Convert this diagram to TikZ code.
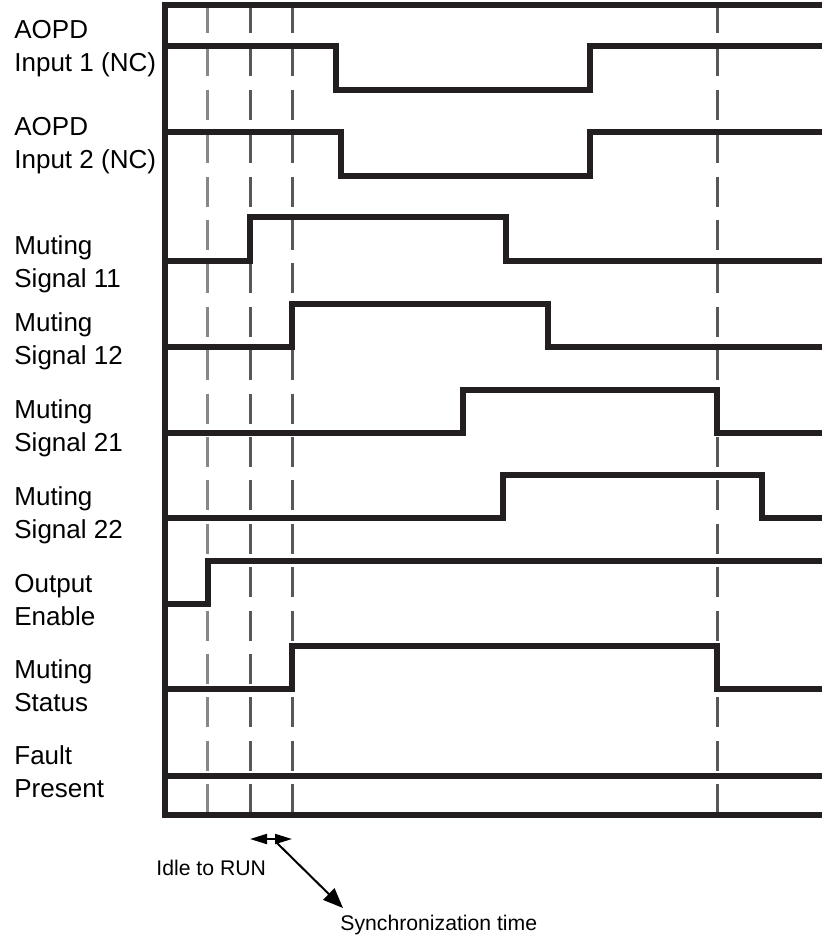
\documentclass[tikz,border=0pt]{standalone}
\usepackage{fontspec}
\setmainfont{Liberation Sans}
\usepackage{tikz}
\usetikzlibrary{arrows.meta}
\definecolor{sigblack}{RGB}{35,31,32}
\definecolor{dashlight}{RGB}{135,135,135}
\definecolor{dashdark}{RGB}{88,88,88}

\begin{document}
\begin{tikzpicture}[
  x=0.5pt, y=-0.5pt,
  sig/.style={draw=sigblack, line width=3pt},
  frame/.style={draw=sigblack, line width=3.3pt},
  guide/.style={line width=1.5pt, dash pattern=on 15pt off 6.7pt},
  signame/.style={font=\fontsize{13}{16.5}\selectfont, align=left,
               anchor=base west, inner sep=0pt},
  note/.style={font=\fontsize{10.6}{12}\selectfont, anchor=base west, inner sep=0pt},
  dim/.style={draw=black, line width=1pt}
]
\useasboundingbox (0,0) rectangle (822,936);

% Signal names (anchored on the second line)
\node[signame] (inone)   at (14,72)  {AOPD\\Input 1 (NC)};
\node[signame] (intwo)   at (14,169) {AOPD\\Input 2 (NC)};
\node[signame] (mut11)   at (14,287) {Muting\\Signal 11};
\node[signame] (mut12)   at (14,364) {Muting\\Signal 12};
\node[signame] (mut21)   at (14,451) {Muting\\Signal 21};
\node[signame] (mut22)   at (14,538) {Muting\\Signal 22};
\node[signame] (outen)   at (14,625) {Output\\Enable};
\node[signame] (mutstat) at (14,711) {Muting\\Status};
\node[signame] (fault)   at (14,797) {Fault\\Present};

% Time marks
\coordinate (tenable) at (207,3);
\coordinate (tidle)   at (250,3);
\coordinate (tsync)   at (292,3);
\coordinate (tend)    at (717,3);
\draw[guide, dashlight] (tenable) -- (207,815);
\draw[guide, dashdark]  (tidle)   -- (250,815);
\draw[guide, dashdark]  (tsync)   -- (292,815);
\draw[guide, dashdark]  (tend)    -- (717,815);

% Waveforms
\draw[sig] (165,46) -- (336,46) -- (336,90) -- (590,90) -- (590,46) -- (822,46);
\draw[sig] (165,132) -- (341,132) -- (341,176) -- (590,176) -- (590,132) -- (822,132);
\draw[sig] (165,261) -- (250,261) -- (250,217) -- (506,217) -- (506,261) -- (822,261);
\draw[sig] (165,347) -- (292,347) -- (292,304) -- (548,304) -- (548,347) -- (822,347);
\draw[sig] (165,433) -- (463,433) -- (463,390) -- (717,390) -- (717,433) -- (822,433);
\draw[sig] (165,518) -- (503,518) -- (503,475) -- (762,475) -- (762,518) -- (822,518);
\draw[sig] (165,604) -- (208,604) -- (208,561) -- (822,561);
\draw[sig] (165,689) -- (292,689) -- (292,646) -- (717,646) -- (717,689) -- (822,689);
\draw[sig] (165,776) -- (822,776);

% Frame
\draw[frame] (822,5) -- (165,5) -- (165,815) -- (822,815);

% Annotations
\coordinate (idleL) at (250,839);
\coordinate (idleR) at (292,839);
\coordinate (syncfrom) at (276,842);
\coordinate (syncto) at (343,908);
\node[note] (idle) at (156,875) {Idle to RUN};
\node[note] (sync) at (340,930) {Synchronization time};
\draw[dim, {Triangle[length=8.5pt, width=5pt]}-{Triangle[length=8.5pt, width=5pt]}] (idleL) -- (idleR);
\draw[dim, -{Triangle[length=10pt, width=8pt]}] (syncfrom) -- (syncto);

\end{tikzpicture}
\end{document}
